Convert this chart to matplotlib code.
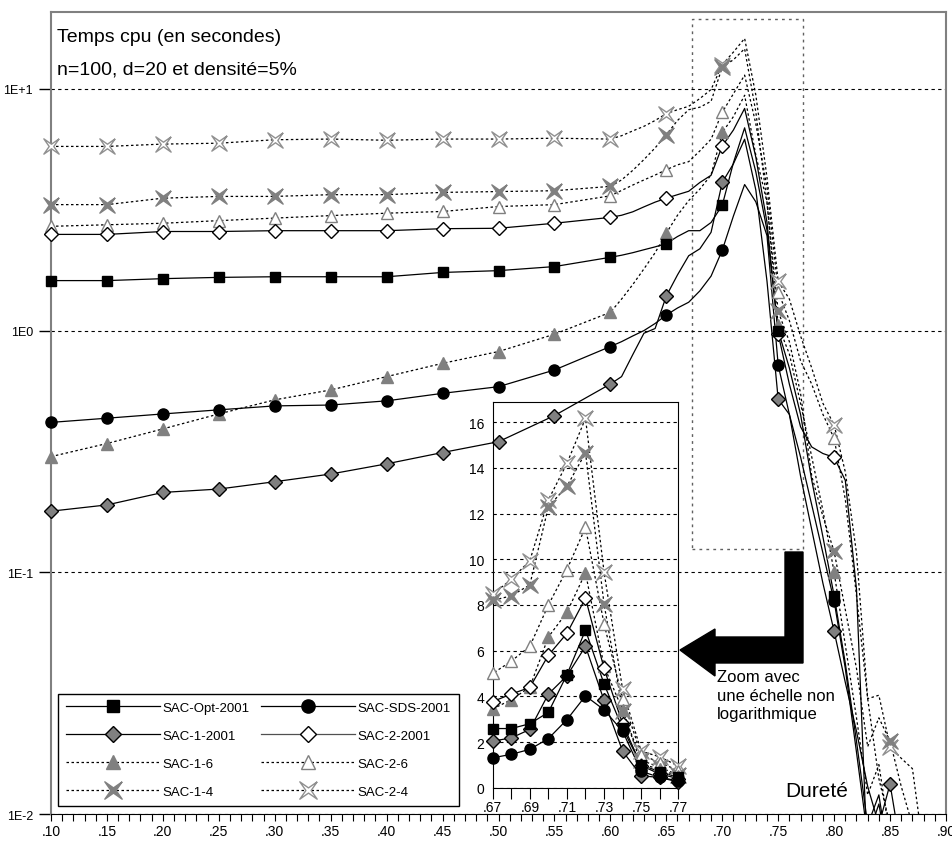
import numpy as np
import matplotlib
matplotlib.use('Agg')
import matplotlib.pyplot as plt
from matplotlib.path import Path
from matplotlib.lines import Line2D
from matplotlib.patches import Polygon, Rectangle

plt.rcParams['font.family'] = ['Liberation Sans', 'DejaVu Sans']

# hardness (x) values, 0.01 steps in the interesting region
durete = [0.10, 0.15, 0.20, 0.25, 0.30, 0.35, 0.40, 0.45, 0.50, 0.55, 0.60,
          0.61, 0.62, 0.63, 0.64, 0.65, 0.66,
          0.67, 0.68, 0.69, 0.70, 0.71, 0.72, 0.73, 0.74, 0.75, 0.76, 0.77,
          0.78, 0.79, 0.80, 0.81, 0.82, 0.83, 0.84, 0.85, 0.86, 0.87, 0.88]

sac_opt = [1.61, 1.61, 1.64, 1.66, 1.67, 1.67, 1.67, 1.74, 1.77, 1.84, 2.01,
           2.05, 2.10, 2.16, 2.22, 2.29, 2.45,
           2.59, 2.59, 2.80, 3.30, 4.95, 6.90, 4.54, 2.60, 1.00, 0.70, 0.45,
           0.24, 0.14, 0.080, 0.042, 0.020, 0.009, 0.012, 0.006, 0.005, 0.005, 0.005]
sac_sds = [0.417, 0.434, 0.452, 0.470, 0.488, 0.492, 0.512, 0.550, 0.586, 0.687, 0.859,
           0.90, 0.95, 1.00, 1.07, 1.16, 1.24,
           1.31, 1.46, 1.68, 2.15, 2.98, 4.02, 3.41, 2.47, 0.72, 0.45, 0.30,
           0.19, 0.12, 0.076, 0.040, 0.018, 0.008, 0.011, 0.006, 0.005, 0.005, 0.005]
sac1_2001 = [0.179, 0.190, 0.214, 0.221, 0.237, 0.255, 0.281, 0.313, 0.347, 0.445, 0.601,
             0.645, 0.795, 0.975, 1.02, 1.39, 1.70,
             2.04, 2.18, 2.55, 4.10, 4.90, 6.19, 3.82, 1.60, 0.52, 0.45, 0.25,
             0.15, 0.09, 0.057, 0.035, 0.022, 0.013, 0.009, 0.0133, 0.007, 0.005, 0.005]
sac2_2001 = [2.50, 2.50, 2.57, 2.57, 2.59, 2.59, 2.59, 2.64, 2.65, 2.78, 2.94,
             3.00, 3.10, 3.25, 3.40, 3.53, 3.65,
             3.77, 4.10, 4.39, 5.80, 6.76, 8.30, 5.22, 2.80, 0.97, 0.60, 0.40,
             0.33, 0.31, 0.299, 0.24, 0.085, 0.006, 0.005, 0.005, 0.005, 0.005, 0.005]
sac1_6 = [0.301, 0.341, 0.392, 0.452, 0.517, 0.568, 0.645, 0.732, 0.819, 0.966, 1.19,
          1.35, 1.55, 1.80, 2.10, 2.53, 3.00,
          3.45, 3.85, 4.40, 6.60, 7.68, 9.41, 5.32, 3.40, 1.05, 0.80, 0.50,
          0.30, 0.18, 0.100, 0.050, 0.025, 0.012, 0.016, 0.008, 0.005, 0.005, 0.005]
sac2_6 = [2.70, 2.74, 2.78, 2.85, 2.92, 2.99, 3.06, 3.11, 3.26, 3.32, 3.61,
          3.80, 4.00, 4.20, 4.40, 4.63, 4.85,
          5.00, 5.54, 6.19, 8.00, 9.55, 11.4, 7.17, 3.90, 1.45, 1.10, 0.75,
          0.60, 0.45, 0.358, 0.20, 0.08, 0.030, 0.014, 0.009, 0.005, 0.005, 0.005]
sac1_4 = [3.32, 3.32, 3.53, 3.59, 3.59, 3.65, 3.65, 3.73, 3.76, 3.79, 3.95,
          4.20, 4.60, 5.10, 5.70, 6.46, 7.40,
          8.20, 8.40, 8.88, 12.3, 13.2, 14.66, 8.04, 3.38, 1.20, 0.90, 0.55,
          0.25, 0.17, 0.122, 0.070, 0.040, 0.019, 0.025, 0.020, 0.013, 0.009, 0.005]
sac2_4 = [5.78, 5.78, 5.91, 5.96, 6.16, 6.20, 6.13, 6.20, 6.20, 6.25, 6.20,
          6.40, 6.70, 7.00, 7.40, 7.90, 8.20,
          8.47, 9.12, 9.94, 12.6, 14.2, 16.17, 9.44, 4.30, 1.60, 1.35, 0.95,
          0.70, 0.50, 0.407, 0.26, 0.12, 0.030, 0.031, 0.019, 0.017, 0.0154, 0.007]

x_ticks = [0.10, 0.15, 0.20, 0.25, 0.30, 0.35, 0.40, 0.45, 0.50, 0.55, 0.60,
           0.65, 0.70, 0.75, 0.80, 0.85, 0.90]
y_ticks = [0.01, 0.1, 1, 10]
y_labels = ['1E-2', '1E-1', '1E0', '1E+1']
inset_yticks = [0, 2, 4, 6, 8, 10, 12, 14, 16]
inset_xlabels = [0.67, 0.69, 0.71, 0.73, 0.75, 0.77]
zoom_box = (0.673, 0.7726, 0.125, 19.4)

star = Path([(1, 1), (0, 0.3), (-1, 1), (-0.3, 0), (-1, -1), (0, -0.3),
             (1, -1), (0.3, 0), (1, 1)])
GRAY = '#808080'
DOT = (0, (2, 2))

series = [
    ('SAC-Opt-2001', sac_opt, dict(marker='s', mfc='black', mec='black', ls='-', ms=7.5)),
    ('SAC-1-2001', sac1_2001, dict(marker='D', mfc=GRAY, mec='black', ls='-', ms=7)),
    ('SAC-1-6', sac1_6, dict(marker='^', mfc=GRAY, mec=GRAY, ls=DOT, ms=8)),
    ('SAC-1-4', sac1_4, dict(marker=star, mfc=GRAY, mec=GRAY, ls=DOT, ms=11)),
    ('SAC-SDS-2001', sac_sds, dict(marker='o', mfc='black', mec='black', ls='-', ms=8)),
    ('SAC-2-2001', sac2_2001, dict(marker='D', mfc='white', mec='black', ls='-', ms=7)),
    ('SAC-2-6', sac2_6, dict(marker='^', mfc='white', mec=GRAY, ls=DOT, ms=8)),
    ('SAC-2-4', sac2_4, dict(marker=star, mfc='white', mec='#909090', ls=DOT, ms=11)),
]
# draw order (bottom to top)
draw_order = ['SAC-2-4', 'SAC-1-4', 'SAC-2-6', 'SAC-1-6', 'SAC-2-2001',
              'SAC-1-2001', 'SAC-Opt-2001', 'SAC-SDS-2001']

W, H = 952, 845
fig = plt.figure(figsize=(W / 100, H / 100), dpi=100)
ax = fig.add_axes([51 / W, 30 / H, 895 / W, 802 / H])

x = np.array(durete)
on_five = np.isclose(np.round(x * 100) % 5, 0)

lookup = {name: (vals, st) for name, vals, st in series}
for z, name in enumerate(draw_order):
    vals, st = lookup[name]
    y = np.array(vals)
    ax.plot(x, y, color='black', lw=0.9, ls=st['ls'], zorder=2 + z * 0.1)
    m = on_five & (y >= 0.01)
    ax.plot(x[m], y[m], ls='none', marker=st['marker'], ms=st['ms'],
            mfc=st['mfc'], mec=st['mec'], mew=1, clip_on=False, zorder=3 + z * 0.1)

ax.set_yscale('log')
ax.set_ylim(0.01, 20.8)
ax.set_xlim(0.10, 0.90)
ax.set_yticks(y_ticks)
ax.set_yticklabels(y_labels)
ax.yaxis.set_minor_locator(matplotlib.ticker.NullLocator())
ax.set_xticks(x_ticks)
ax.set_xticklabels([f'{v:.2f}'.lstrip('0') for v in x_ticks])
ax.set_xticks(np.arange(0.10, 0.9001, 0.01), minor=True)
ax.tick_params(axis='y', direction='out', length=9, width=1, labelsize=9, pad=4)
ax.tick_params(axis='x', which='both', direction='out', length=5, width=0.8,
               labelsize=10, pad=2)
ax.yaxis.grid(True, which='major', color='black', ls=(0, (3, 3)), lw=0.8)
for s in ['left', 'top', 'right']:
    ax.spines[s].set_color(GRAY)
    ax.spines[s].set_linewidth(1.5)
ax.spines['bottom'].set_color('black')

# dotted zoom frame
x0, x1, y0, y1 = zoom_box
ax.add_patch(Rectangle((x0, y0), x1 - x0, y1 - y0, fill=False, ec='#606060',
                       ls=(0, (2, 3)), lw=1, zorder=1))

ax.text(0.007, 0.98, 'Temps cpu (en secondes)', transform=ax.transAxes,
        fontsize=14, va='top', ha='left')
ax.text(0.007, 0.94, 'n=100, d=20 et densité=5%', transform=ax.transAxes,
        fontsize=14, va='top', ha='left')

handles = []
for name, vals, st in series:
    line_col = '#505050' if name == 'SAC-2-2001' else 'black'
    handles.append(Line2D([], [], color=line_col, lw=0.9, ls=st['ls'], marker=st['marker'],
                          ms=st['ms'] + 1.5, mfc=st['mfc'], mec=st['mec']))
leg = ax.legend(handles, [s[0] for s in series], ncol=2, loc='lower left',
                bbox_to_anchor=(0.008, 0.01), borderaxespad=0, fontsize=9.5,
                handlelength=7.1, handletextpad=0.2, columnspacing=0.9,
                labelspacing=1.2, borderpad=0.6, numpoints=1, fancybox=False,
                framealpha=1, edgecolor='black')
leg.get_frame().set_linewidth(1)

# inset with linear scale
ins = fig.add_axes([492.7 / W, (H - 788.7) / H, 185.6 / W, 386 / H])
ins.patch.set_alpha(0)
for z, name in enumerate(draw_order):
    vals, st = lookup[name]
    y = np.array(vals)
    ins.plot(x, y, color='black', lw=0.9, ls=st['ls'], zorder=2 + z * 0.1)
    m = (x > 0.665) & (x < 0.775)
    ins.plot(x[m], y[m], ls='none', marker=st['marker'], ms=st['ms'],
             mfc=st['mfc'], mec=st['mec'], mew=1, clip_on=False, zorder=3 + z * 0.1)
ins.set_xlim(0.67, 0.77)
ins.set_ylim(0, 16.9)
ins.set_yticks(inset_yticks)
ins.set_xticks(inset_xlabels)
ins.set_xticklabels([f'{v:.2f}'.lstrip('0') for v in inset_xlabels])
ins.set_xticks(np.arange(0.67, 0.7701, 0.01), minor=True)
ins.tick_params(axis='y', length=0, labelsize=10, pad=6)
ins.tick_params(axis='x', which='both', direction='out', length=8, width=0.8,
                labelsize=10, pad=1)
ins.yaxis.grid(True, color='black', ls=(0, (3, 3)), lw=0.8)
for s in ins.spines.values():
    s.set_linewidth(0.8)

# big L-shaped arrow
arrow_px = [(680, 651), (715, 630), (715, 638), (785, 638), (785, 553), (803, 553),
            (803, 664), (715, 664), (715, 677)]
fig.patches.append(Polygon([(px / W, 1 - py / H) for px, py in arrow_px], closed=True,
                           fc='black', ec='black', transform=fig.transFigure))
fig.text(717 / W, 1 - 670 / H, 'Zoom avec\nune échelle non\nlogarithmique',
         fontsize=12, va='top', ha='left', linespacing=1.3)
fig.text(785 / W, 1 - 782 / H, 'Dureté', fontsize=15, va='top', ha='left')

fig.savefig('out.png', dpi=100)
